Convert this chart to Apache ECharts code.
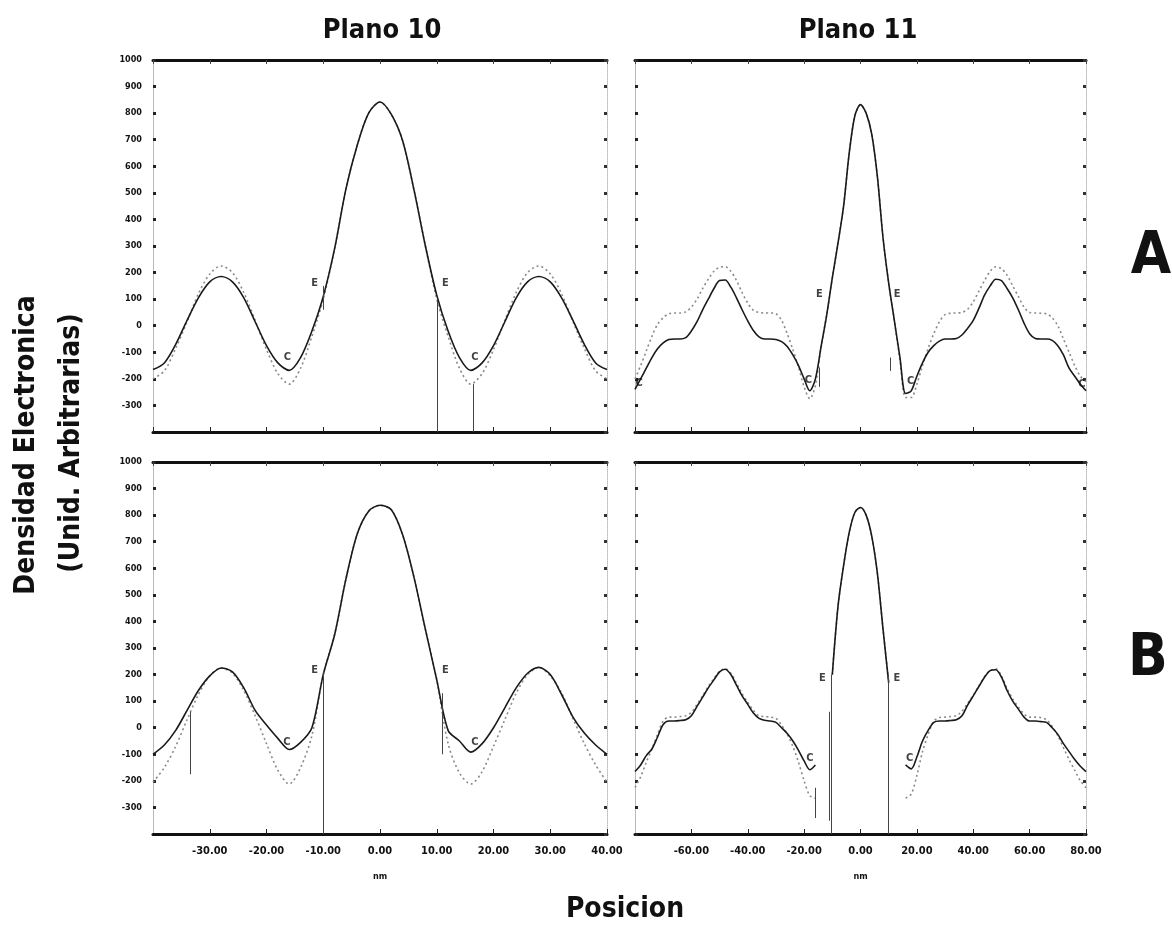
<!DOCTYPE html>
<html>
<head>
<meta charset="utf-8">
<script src="https://cdn.jsdelivr.net/npm/echarts@6.0.0/dist/echarts.min.js"></script>
<style>
  html, body { margin: 0; padding: 0; background: #fff; }
  #chart { width: 1172px; height: 930px; }
</style>
</head>
<body>
<div id="chart"></div>
<script>
// ── data ────────────────────────────────────────────────────
const xsPlano10 = [-40,-38,-36,-34,-32,-30,-28,-26,-24,-22,-20,-18,-16,-14,-12,-10,-8,-6,-4,-2,0,
  2,4,6,8,10,12,14,16,18,20,22,24,26,28,30,32,34,36,38,40]
const xsPlano11 = [-80,-78,-76,-74,-72,-70,-68,-66,-64,-62,-60,-58,-56,-54,-52,-50,-48,-46,-44,-42,
  -40,-38,-36,-34,-32,-30,-28,-26,-24,-22,-20,-18,-16,-14,-12,-10,-8,-6,-4,-2,0,
  2,4,6,8,10,12,14,16,18,20,22,24,26,28,30,32,34,36,38,40,
  42,44,46,48,50,52,54,56,58,60,62,64,66,68,70,72,74,76,78,80]

// Panel A, Plano 10
const solidA10 = [-165,-140,-70,20,105,165,185,165,105,15, -75,-140,-168,-120,-20,110,290,515,680,800,
  842, 795,695,510,300,115,-20,-120,-168,-140,-75, 15,105,165,185,165,105,20,-70,-140,-165]
const dottedA10 = [-200,-170,-85,15,120,195,225,200,125,20, -90,-180,-220,-160,-40,100,290,515,680,800,
  842, 795,695,510,300,100,-40,-160,-220,-180,-90, 20,125,200,225,195,120,15,-85,-170,-200]

// Panel A, Plano 11
const solidA11 = [-240,-200,-160,-120,-87,-65,-52,-50,-50,-45, -20,15,60,100,140,170,172,145,105,60,
  18,-18,-42,-50,-50,-52,-60,-78,-110,-150, -200,-245,-200,-80,40,180,310,450,650,790,
  832,
  800,720,560,330,160,20,-120,-255,-245,-190, -140,-100,-75,-58,-50,-50,-48,-35,-10,20,
  65,115,150,175,170,140,105,60,10,-30, -48,-50,-50,-55,-75,-110,-160,-190,-220,-245]
const dottedA11 = [-200,-150,-95,-40,5,30,45,48,48,52, 70,100,140,175,205,220,222,205,170,125,
  85,58,50,48,48,45,20,-30,-90,-155, -230,-275,-225,-80,40,180,310,450,650,790,
  832,
  800,720,560,330,160,20,-130,-270,-270,-220, -150,-85,-30,15,42,47,48,50,62,90,
  130,170,205,222,215,190,150,110,70,50, 48,47,45,30,0,-50,-100,-150,-190,-210]

// Panel B, Plano 10
const solidB10 = [-100,-65,-10,65,140,195,225,210,150,65, 10,-40,-82,-55,0,200,350,560,730,815,
  837, 820,725,565,370,180,-10,-50,-92,-60,0, 75,150,205,227,200,125,40,-20,-65,-100]
const dottedB10 = [-205,-150,-70,30,125,195,225,205,140,45, -60,-160,-212,-150,-30,200,350,560,730,815,
  837, 820,725,565,370,180,-60,-170,-212,-165,-70, 30,130,200,227,195,130,35,-60,-140,-205]

// Panel B, Plano 11 (null = break in the trace)
const solidB11 = [-165,-140,-105,-80,-35,12,25,25,27,30, 45,80,115,150,180,210,220,200,160,120,
  88,55,35,28,25,20,0,-22,-50,-85, -125,-158,-140,null,null,200,455,610,735,810,
  829,
  800,720,580,370,170,null,null,-140,-155,-110, -50,-10,20,25,25,27,30,45,85,120,
  155,190,215,218,190,140,100,70,40,25, 25,23,20,0,-25,-60,-90,-120,-145,-165]
const dottedB11 = [-225,-185,-130,-80,-25,25,40,40,42,45, 58,88,120,155,185,212,222,205,168,128,
  95,65,45,42,40,35,10,-25,-70,-130, -200,-255,-265,null,null,200,455,610,735,810,
  829,
  800,720,580,370,170,null,null,-265,-250,-180, -90,-25,25,38,40,42,45,62,92,122,
  158,192,215,222,195,148,108,78,52,40, 40,38,30,5,-30,-75,-120,-160,-200,-226]

// vertical drop lines [x, yFrom, yTo]
const dropsA10 = [[-10, 60, 150], [10, -400, 100], [16.5, -400, -220]]
const dropsA11 = [[-14.6, -230, -157], [10.7, -170, -120]]
const dropsB10 = [[-10, -400, 210], [-33.5, -175, 60], [11, -100, 130]]
const dropsB11 = [[-10.3, -400, 200], [9.7, -400, 200], [-16.1, -340, -226], [-11.2, -350, 60]]

// point annotations [x, y, text]
const marksA10 = [[-11.5, 160, 'E'], [11.5, 160, 'E'], [-16.3, -120, 'C'], [16.7, -120, 'C']]
const marksA11 = [[-14.6, 117, 'E'], [13, 117, 'E'], [-18.5, -205, 'C'], [17.8, -210, 'C'], [-78.5, -215, 'C'], [78.5, -220, 'C']]
const marksB10 = [[-11.5, 215, 'E'], [11.5, 215, 'E'], [-16.4, -55, 'C'], [16.7, -55, 'C']]
const marksB11 = [[-13.5, 186, 'E'], [12.9, 186, 'E'], [-18, -113, 'C'], [17.4, -113, 'C']]

const yTicks = { min: -400, max: 1000, interval: 100 }
const panelTitles = ['Plano 10', 'Plano 11']

// ── layout ──────────────────────────────────────────────────
const FONT = '"DejaVu Sans Condensed", "Liberation Sans Narrow", sans-serif'
const grids = [
  { left: 153, top: 60, width: 454, height: 372 },
  { left: 635, top: 60, width: 451, height: 372 },
  { left: 153, top: 462, width: 454, height: 372 },
  { left: 635, top: 462, width: 451, height: 372 },
]
const xRanges = [
  { min: -40, max: 40, interval: 10 },
  { min: -80, max: 80, interval: 20 },
  { min: -40, max: 40, interval: 10 },
  { min: -80, max: 80, interval: 20 },
]

const xAxes = []
const yAxes = []
grids.forEach((g, i) => {
  const bottomRow = i >= 2
  const leftCol = i % 2 === 0
  xAxes.push({
    type: 'value', gridIndex: i, position: 'bottom', ...xRanges[i],
    axisLine: { onZero: false, lineStyle: { color: '#111', width: 3 } },
    axisTick: { inside: true, length: 5, lineStyle: { color: '#222', width: 1 } },
    axisLabel: {
      show: bottomRow, showMinLabel: false, margin: 12,
      fontFamily: FONT, fontWeight: 'bold', fontSize: 11, color: '#111',
      formatter: v => v.toFixed(2),
    },
    splitLine: { show: false },
    name: bottomRow ? 'nm' : '', nameLocation: 'middle', nameGap: 38,
    nameTextStyle: { fontFamily: FONT, fontWeight: 'bold', fontSize: 9, color: '#111' },
  })
  xAxes.push({
    type: 'value', gridIndex: i, position: 'top', ...xRanges[i],
    axisLine: { onZero: false, lineStyle: { color: '#111', width: 3 } },
    axisTick: { inside: true, length: 4, lineStyle: { color: '#444', width: 1 } },
    axisLabel: { show: false },
    splitLine: { show: false },
  })
  yAxes.push({
    type: 'value', gridIndex: i, position: 'left', ...yTicks,
    axisLine: { onZero: false, lineStyle: { color: '#bbb', width: 1 } },
    axisTick: { inside: true, length: 3, lineStyle: { color: '#222', width: 3 } },
    axisLabel: {
      show: leftCol, showMinLabel: false, margin: 11,
      fontFamily: FONT, fontWeight: 'bold', fontSize: 9, color: '#111',
      formatter: v => String(v),
    },
    splitLine: { show: false },
  })
  yAxes.push({
    type: 'value', gridIndex: i, position: 'right', ...yTicks,
    axisLine: { onZero: false, lineStyle: { color: '#bbb', width: 1, type: 'dotted' } },
    axisTick: { inside: true, length: 3, lineStyle: { color: '#333', width: 3 } },
    axisLabel: { show: false },
    splitLine: { show: false },
  })
})

const pairs = (xs, ys) => xs.map((x, k) => [x, ys[k] === null ? '-' : ys[k]])

function panelSeries(i, xs, solid, dotted, drops, marks) {
  const axes = { xAxisIndex: 2 * i, yAxisIndex: 2 * i }
  return [
    {
      type: 'line', ...axes, data: pairs(xs, dotted), smooth: 0.3,
      showSymbol: false, connectNulls: false, z: 2,
      lineStyle: { color: '#8a8a8a', width: 1.6, type: [2, 3] },
    },
    {
      type: 'line', ...axes, data: pairs(xs, solid), smooth: 0.3,
      showSymbol: false, connectNulls: false, z: 3,
      lineStyle: { color: '#1a1a1a', width: 1.6 },
      markLine: {
        silent: true, symbol: 'none', label: { show: false },
        lineStyle: { color: '#444', width: 1, type: 'solid' },
        data: drops.map(d => [{ coord: [d[0], d[1]] }, { coord: [d[0], d[2]] }]),
      },
    },
    {
      type: 'scatter', ...axes, symbolSize: 1, z: 4,
      itemStyle: { color: 'rgba(0,0,0,0)' },
      data: marks.map(m => ({ value: [m[0], m[1]], name: m[2] })),
      label: {
        show: true, position: 'inside', formatter: p => p.name,
        fontFamily: FONT, fontWeight: 'bold', fontSize: 11, color: '#111',
      },
    },
  ]
}

const series = [
  ...panelSeries(0, xsPlano10, solidA10, dottedA10, dropsA10, marksA10),
  ...panelSeries(1, xsPlano11, solidA11, dottedA11, dropsA11, marksA11),
  ...panelSeries(2, xsPlano10, solidB10, dottedB10, dropsB10, marksB10),
  ...panelSeries(3, xsPlano11, solidB11, dottedB11, dropsB11, marksB11),
]

const txt = (x, y, text, size, extra) => ({
  type: 'text', x, y, ...extra,
  style: {
    text, fontFamily: FONT, fontWeight: 'bold', fontSize: size, fill: '#111',
    align: 'center', verticalAlign: 'middle',
  },
})

const chart = echarts.init(document.getElementById('chart'), null, { renderer: 'canvas' })
chart.setOption({
  backgroundColor: '#fff',
  animation: false,
  grid: grids,
  xAxis: xAxes,
  yAxis: yAxes,
  series,
  graphic: [
    txt(382, 31, panelTitles[0], 27),
    txt(858, 31, panelTitles[1], 27),
    txt(1151, 258, 'A', 58),
    txt(1148, 660, 'B', 58),
    txt(625, 910, 'Posicion', 28),
    txt(27, 445, 'Densidad Electronica', 28, { rotation: Math.PI / 2 }),
    txt(72, 443, '(Unid. Arbitrarias)', 28, { rotation: Math.PI / 2 }),
  ],
})
</script>
</body>
</html>
